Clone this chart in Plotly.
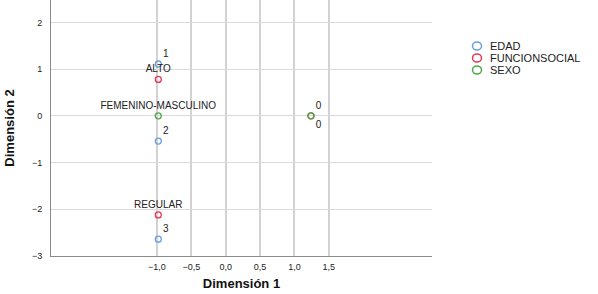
import plotly.graph_objects as go

# Category points (Dimension 1, Dimension 2)
edad_labels = ["1", "2", "3"]
edad_x = [-0.98, -0.98, -0.98]
edad_y = [1.11, -0.54, -2.64]

func_labels = ["ALTO", "REGULAR", "0"]
func_x = [-0.98, -0.98, 1.24]
func_y = [0.78, -2.12, 0.0]

sexo_labels = ["FEMENINO-MASCULINO", "0"]
sexo_x = [-0.98, 1.24]
sexo_y = [0.0, 0.0]

x_ticks = [-1.0, -0.5, 0.0, 0.5, 1.0, 1.5]
y_ticks = [-3, -2, -1, 0, 1, 2]

series_names = ["EDAD", "FUNCIONSOCIAL", "SEXO"]
series_colors = ["#6a9fe0", "#e23a55", "#4aa84a"]

FONT = "Arial, Liberation Sans, sans-serif"

fig = go.Figure()

def add_series(x, y, labels, positions, color, name):
    fig.add_trace(go.Scatter(
        x=x, y=y, mode="markers+text", text=labels, textposition=positions,
        marker=dict(symbol="circle-open", size=6, color=color, line=dict(width=1.3, color=color)),
        textfont=dict(family=FONT, size=10, color="#222"),
        name=name, showlegend=False, cliponaxis=False,
    ))

add_series(edad_x, edad_y, edad_labels, ["top right", "top right", "top right"], series_colors[0], "EDAD")
add_series(func_x, func_y, func_labels, ["top center", "top center", "bottom right"], series_colors[1], "FUNCIONSOCIAL")
add_series(sexo_x, sexo_y, sexo_labels, ["top center", "top right"], series_colors[2], "SEXO")

# Manual legend (compact spacing)
leg_y0 = 46
for i, (nm, col) in enumerate(zip(series_names, series_colors)):
    ypix = leg_y0 + i * 12
    yp = 1 - ypix / 256.0
    fig.add_shape(type="circle", xref="paper", yref="paper",
                  xsizemode="pixel", ysizemode="pixel",
                  xanchor=(477 - 51) / 381.0, yanchor=yp,
                  x0=-4.5, x1=4.5, y0=-4, y1=4,
                  line=dict(color=col, width=1.5))
    fig.add_annotation(xref="paper", yref="paper", x=(488 - 51) / 381.0, y=yp,
                       text=nm, showarrow=False, xanchor="left", yanchor="middle",
                       font=dict(family=FONT, size=11, color="#222"))

fig.update_layout(
    width=598, height=294,
    margin=dict(l=51, r=166, t=0, b=38),
    paper_bgcolor="white", plot_bgcolor="white",
    separators=",.",
    showlegend=False,
    font=dict(family=FONT, size=9, color="#222"),
)
fig.update_xaxes(
    range=[-2.54, 3.0], tickvals=x_ticks, tickformat=".1f", automargin=False,
    showgrid=True, gridcolor="#d2d2d2", gridwidth=1.5,
    showline=True, linecolor="#8a8a8a", linewidth=1,
    zeroline=False, ticks="", ticklabelstandoff=2,
    title=dict(text="<b>Dimensión 1</b>", font=dict(family=FONT, size=13, color="#111"), standoff=8),
)
fig.update_yaxes(
    range=[-3, 2.48], tickvals=y_ticks, automargin=False,
    showgrid=True, gridcolor="#dadada", gridwidth=1,
    showline=True, linecolor="#8a8a8a", linewidth=1,
    zeroline=False, ticks="", ticklabelstandoff=6,
    title=dict(text="<b>Dimensión 2</b>", font=dict(family=FONT, size=13, color="#111"), standoff=14),
)

fig.write_html("out.html", config={"displayModeBar": False},
               post_script="document.body.style.margin='0';document.body.style.overflow='hidden';")
